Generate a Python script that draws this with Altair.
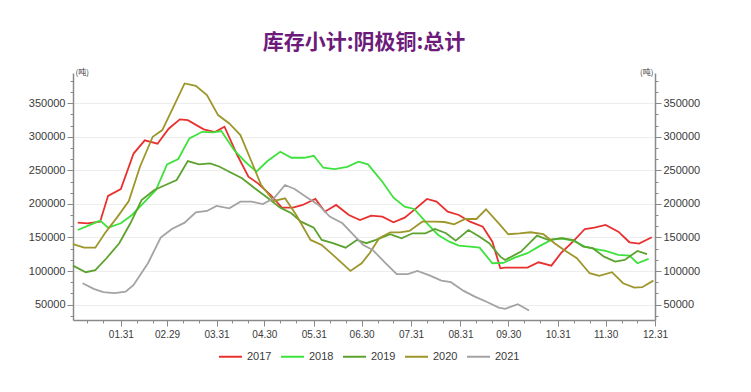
import altair as alt
import pandas as pd

TITLE = "库存小计:阴极铜:总计"
UNIT = "(吨)"
YEARS = ["2017", "2018", "2019", "2020", "2021"]
COLORS = ["#e8312f", "#3de23d", "#5ca22e", "#9d962a", "#a3a3a3"]

# month-end tick positions (day of year, leap-year calendar) and their labels
TICK_DAYS = [31, 60, 91, 121, 152, 182, 213, 244, 274, 305, 335, 366]
TICK_LABELS = ["01.31", "02.29", "03.31", "04.30", "05.31", "06.30",
               "07.31", "08.31", "09.30", "10.31", "11.30", "12.31"]
MINOR_DAYS = [10, 20, 41, 51, 70, 80, 101, 111, 131, 141, 162, 172,
              192, 202, 223, 233, 254, 264, 284, 294, 315, 325, 345, 355]
Y_TICKS = [50000, 100000, 150000, 200000, 250000, 300000, 350000]
Y_MINOR = [33333, 66667, 83333, 116667, 133333, 166667, 183333, 216667,
           233333, 266667, 283333, 316667, 333333, 366667, 383333]

day_2017 = [4, 10, 18, 23, 31, 39, 46, 54, 61, 68, 73, 83, 90, 96, 104, 111, 117, 125,
            132, 139, 145, 153, 159, 166, 174, 181, 188, 195, 202, 209, 215, 223, 229,
            236, 243, 250, 258, 264, 269, 272, 279, 286, 293, 301, 307, 315, 322, 328,
            335, 343, 350, 356, 364]
val_2017 = [172000, 171000, 173500, 212000, 222000, 275000, 294600, 289600, 312000,
            326000, 324800, 311000, 307000, 315000, 272800, 240500, 230600, 213200,
            194400, 194400, 198400, 207300, 188400, 198400, 183500, 176000, 182500,
            181000, 172600, 179500, 191000, 207300, 203300, 188400, 183500, 173500,
            166000, 143700, 104000, 105000, 105000, 105000, 113000, 108000, 126500,
            144800, 162600, 164600, 168600, 158600, 142800, 140800, 150300]

day_2018 = [4, 11, 18, 23, 31, 38, 45, 53, 60, 67, 74, 82, 89, 94, 102, 109, 116, 123,
            131, 138, 146, 152, 158, 165, 173, 180, 186, 195, 202, 209, 215, 223, 230,
            237, 243, 250, 256, 264, 271, 278, 286, 293, 301, 307, 315, 322, 328, 335,
            343, 350, 355, 362]
val_2018 = [161100, 168000, 175000, 164600, 171100, 183500, 200900, 220700, 258900,
            266800, 297600, 307400, 306500, 308500, 280200, 262800, 247900, 263800,
            277700, 268700, 268700, 271700, 253900, 251900, 255300, 262800, 258900,
            233000, 209200, 195800, 192400, 171100, 153700, 143700, 137800, 136300,
            134800, 111600, 112000, 120000, 126500, 136300, 146300, 148800, 144800,
            136300, 132900, 129900, 124000, 122900, 111600, 118000]

day_2019 = [1, 9, 15, 22, 30, 37, 44, 52, 59, 66, 73, 80, 87, 93, 99, 107, 115, 124,
            131, 138, 144, 152, 157, 164, 172, 179, 185, 191, 200, 207, 214, 222, 228,
            235, 241, 249, 256, 262, 269, 272, 282, 292, 299, 308, 315, 321, 327, 334,
            341, 347, 355, 361]
val_2019 = [108000, 98200, 101200, 119000, 141400, 171100, 205800, 220700, 228100,
            235600, 263800, 258900, 260400, 255300, 247900, 238100, 223200, 207300,
            194400, 186000, 173500, 164600, 146300, 141400, 134800, 146300, 141400,
            146300, 154800, 148800, 156200, 156200, 162600, 156200, 145200, 161100,
            151200, 141400, 121400, 116500, 128900, 152700, 146300, 148800, 146000,
            136300, 134000, 121400, 114000, 116500, 129900, 125000]

day_2020 = [1, 8, 15, 21, 29, 36, 43, 51, 57, 64, 71, 78, 85, 92, 99, 106, 113, 119,
            127, 134, 141, 150, 157, 164, 175, 182, 187, 193, 200, 206, 212, 220, 228,
            234, 240, 247, 254, 260, 268, 274, 281, 288, 296, 303, 309, 317, 325, 331,
            339, 346, 353, 358, 365]
val_2020 = [139900, 134800, 134800, 156200, 181000, 204300, 255300, 300000, 310000,
            344600, 379400, 375900, 362000, 332300, 319900, 302500, 262800, 228100,
            204300, 208300, 183500, 146300, 138800, 124000, 100100, 111600, 126500,
            148800, 157700, 157700, 159700, 173500, 173500, 173000, 169600, 177500,
            177500, 192000, 171100, 154800, 156000, 157700, 154800, 141400, 131400,
            119000, 96700, 92700, 98200, 81800, 75300, 75900, 85700]

day_2021 = [7, 14, 20, 27, 34, 39, 48, 56, 63, 71, 78, 85, 91, 99, 106, 113, 120, 127,
            134, 140, 148, 155, 162, 170, 176, 183, 189, 197, 204, 211, 217, 225, 232,
            238, 246, 253, 260, 268, 272, 280, 287]
val_2021 = [81800, 73400, 68400, 67000, 69300, 79300, 111600, 149700, 162600, 172000,
            187500, 189400, 196900, 193400, 203300, 203300, 199800, 208300, 228100,
            222200, 209200, 198400, 181000, 171100, 156200, 138800, 131400, 111600,
            95200, 95200, 100100, 93100, 85700, 83300, 70400, 61900, 54500, 45500,
            43600, 50600, 41100]

series = {
    "2017": (day_2017, val_2017),
    "2018": (day_2018, val_2018),
    "2019": (day_2019, val_2019),
    "2020": (day_2020, val_2020),
    "2021": (day_2021, val_2021),
}
rows = []
for yr, (days, vals) in series.items():
    for d, v in zip(days, vals):
        rows.append({"year": yr, "day": d, "value": v})
df = pd.DataFrame(rows)

FONT = "Liberation Sans"
AXIS_GRAY = "#8a8a8a"
LABEL_COLOR = "#3a3a3a"

xscale = alt.Scale(domain=[1, 366], nice=False, zero=False)
yscale = alt.Scale(domain=[27000, 395000], nice=False, zero=False)

label_expr = ("[" + ",".join("'%s'" % s for s in TICK_LABELS) + "][indexof(["
              + ",".join(str(v) for v in TICK_DAYS) + "], datum.value)]")

lines = alt.Chart(df).mark_line(strokeWidth=1.8).encode(
    x=alt.X("day:Q", scale=xscale, title=None,
            axis=alt.Axis(orient="bottom", values=TICK_DAYS, labelExpr=label_expr,
                          tickSize=6, tickColor=AXIS_GRAY, tickWidth=1,
                          domainColor=AXIS_GRAY, domainWidth=1.5, grid=False,
                          labelFont=FONT, labelFontSize=10, labelColor=LABEL_COLOR,
                          labelPadding=3, labelFlush=False)),
    y=alt.Y("value:Q", scale=yscale,
            axis=alt.Axis(orient="left", values=Y_TICKS, format="d",
                          tickSize=6, tickColor=AXIS_GRAY, domainColor=AXIS_GRAY,
                          domainWidth=1.5, grid=True, gridColor="#ededed",
                          labelFont=FONT, labelFontSize=11, labelColor=LABEL_COLOR,
                          labelPadding=2,
                          title=UNIT, titleAngle=0, titleX=2, titleY=-1,
                          titleAlign="left", titleBaseline="middle",
                          titleFontSize=8, titleFontWeight="normal",
                          titleColor=LABEL_COLOR, titleFont="Noto Sans CJK SC")),
    color=alt.Color("year:N", scale=alt.Scale(domain=YEARS, range=COLORS),
                    legend=alt.Legend(title=None, orient="none", legendX=145, legendY=271,
                                      direction="horizontal", symbolType="stroke",
                                      symbolSize=529, symbolStrokeWidth=2,
                                      labelFont=FONT, labelFontSize=11,
                                      labelColor=LABEL_COLOR, labelOffset=4,
                                      columnPadding=5, padding=0)),
)

minor_left = alt.Chart(df).mark_line(opacity=0).encode(
    x=alt.X("day:Q", scale=xscale, title=None,
            axis=alt.Axis(orient="bottom", values=MINOR_DAYS, labels=False, tickSize=3,
                          tickColor=AXIS_GRAY, domain=False, grid=False)),
    y=alt.Y("value:Q", scale=yscale, title=None,
            axis=alt.Axis(orient="left", values=Y_MINOR, labels=False, tickSize=3,
                          tickColor=AXIS_GRAY, domain=False, grid=False)),
    detail="year:N",
)

right_major = alt.Chart(df).mark_line(opacity=0).encode(
    x=alt.X("day:Q", scale=xscale, axis=None),
    y=alt.Y("value:Q", scale=yscale,
            axis=alt.Axis(orient="right", values=Y_TICKS, format="d",
                          tickSize=6, tickColor=AXIS_GRAY, domainColor=AXIS_GRAY,
                          domainWidth=1.5, grid=False,
                          labelFont=FONT, labelFontSize=11, labelColor=LABEL_COLOR,
                          labelPadding=2,
                          title=UNIT, titleAngle=0, titleX=-2, titleY=-1,
                          titleAlign="right", titleBaseline="middle",
                          titleFontSize=8, titleFontWeight="normal",
                          titleColor=LABEL_COLOR, titleFont="Noto Sans CJK SC")),
    detail="year:N",
)

right_minor = alt.Chart(df).mark_line(opacity=0).encode(
    x=alt.X("day:Q", scale=xscale, axis=None),
    y=alt.Y("value:Q", scale=yscale, title=None,
            axis=alt.Axis(orient="right", values=Y_MINOR, labels=False, tickSize=3,
                          tickColor=AXIS_GRAY, domain=False, grid=False)),
    detail="year:N",
)

chart = alt.layer(minor_left, right_major, right_minor, lines).resolve_axis(
    x="independent", y="independent"
).properties(
    width=582,
    height=247,
    autosize=alt.AutoSizeParams(type="none"),
    padding={"left": 65, "top": 65, "right": 88, "bottom": 64},
    title=alt.TitleParams(TITLE, font="Noto Sans CJK SC", fontSize=21, fontWeight="bold",
                          color="#6d1b7b", anchor="middle", frame="group", offset=15),
).configure_view(stroke=None)

chart.save("out.html", embed_options={"renderer": "svg", "actions": False})
